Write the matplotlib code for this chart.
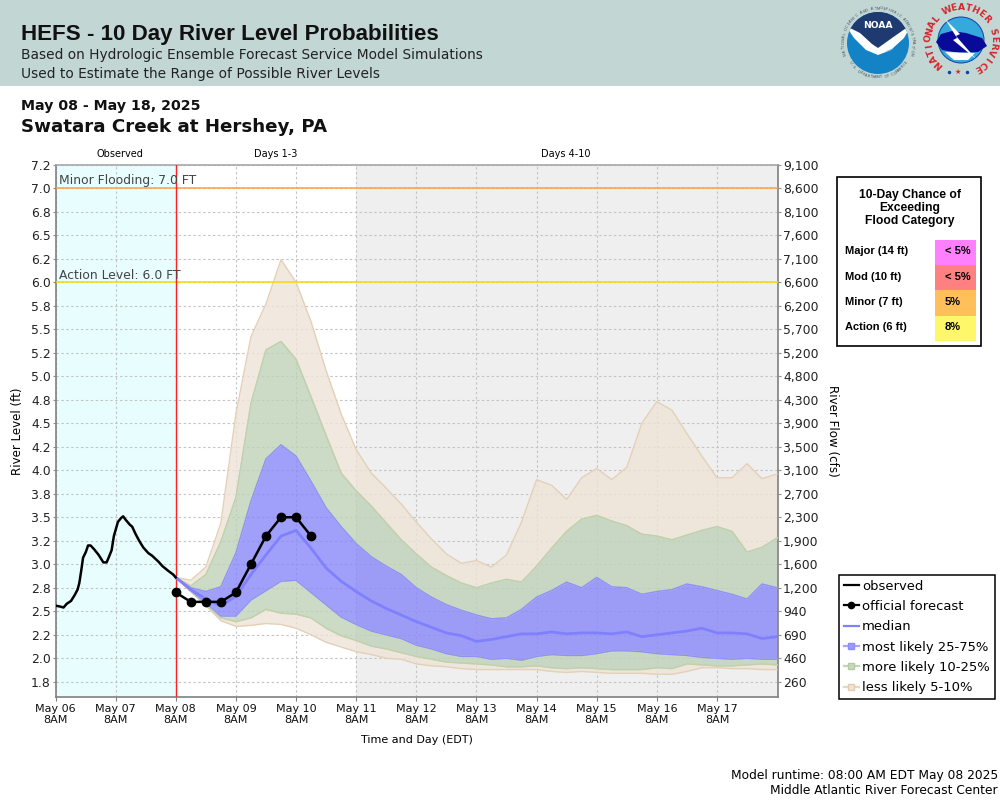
import matplotlib
matplotlib.use('Agg')
import matplotlib.pyplot as plt
import numpy as np
from matplotlib.lines import Line2D
from matplotlib.patches import Rectangle, Circle, Polygon

# observed stage, hours after May 06 8AM
obs_hours = [0, 1.9, 3.2, 4.5, 6.2, 7.6, 8.8, 9.5, 10.2, 11, 12.1, 13, 14, 15.4, 17.2, 19.1, 20.4, 21.2,
             22.4, 23.3, 24.9, 26.1, 27, 28.1, 29.7, 30.6, 32, 33.4, 35, 37, 38.6, 41, 42.7, 45, 47, 48]
obs_level = [2.56, 2.55, 2.54, 2.58, 2.61, 2.67, 2.73, 2.80, 2.92, 3.07, 3.13, 3.20, 3.20, 3.16, 3.10, 3.02, 3.02, 3.07,
             3.15, 3.30, 3.45, 3.49, 3.51, 3.47, 3.42, 3.40, 3.32, 3.25, 3.18, 3.12, 3.09, 3.03, 2.98, 2.93, 2.89, 2.86]

# official forecast, every 6 hours from May 08 8AM
official = [2.70, 2.60, 2.60, 2.60, 2.70, 3.00, 3.30, 3.50, 3.50, 3.30]

# ensemble percentiles, every 6 hours from May 08 8AM
tan_top = [2.86, 2.83, 2.97, 3.44, 4.60, 5.42, 5.77, 6.24, 6.00, 5.58, 5.06, 4.60, 4.22, 3.97, 3.81, 3.64,
           3.45, 3.27, 3.11, 3.01, 3.04, 2.97, 3.10, 3.45, 3.90, 3.84, 3.69, 3.92, 4.02, 3.90, 4.03, 4.50,
           4.73, 4.64, 4.39, 4.15, 3.92, 3.92, 4.07, 3.91, 3.96]
green_top = [2.86, 2.77, 2.89, 3.24, 3.71, 4.71, 5.28, 5.37, 5.18, 4.78, 4.37, 3.97, 3.78, 3.62, 3.44, 3.26,
             3.11, 2.97, 2.88, 2.80, 2.75, 2.80, 2.84, 2.81, 2.98, 3.17, 3.35, 3.48, 3.52, 3.46, 3.41, 3.32,
             3.30, 3.26, 3.31, 3.36, 3.40, 3.35, 3.13, 3.18, 3.28]
blue_top = [2.86, 2.75, 2.71, 2.76, 3.12, 3.67, 4.12, 4.27, 4.15, 3.88, 3.60, 3.40, 3.22, 3.08, 2.98, 2.89,
            2.75, 2.65, 2.57, 2.51, 2.46, 2.42, 2.43, 2.52, 2.65, 2.72, 2.81, 2.75, 2.86, 2.76, 2.75, 2.68,
            2.71, 2.73, 2.79, 2.76, 2.72, 2.68, 2.63, 2.79, 2.75]
median = [2.86, 2.73, 2.63, 2.56, 2.66, 2.89, 3.10, 3.30, 3.36, 3.17, 2.96, 2.82, 2.71, 2.61, 2.53, 2.46,
          2.39, 2.33, 2.27, 2.24, 2.18, 2.20, 2.23, 2.26, 2.26, 2.28, 2.26, 2.27, 2.27, 2.26, 2.28, 2.23,
          2.25, 2.27, 2.29, 2.32, 2.27, 2.27, 2.26, 2.21, 2.23]
blue_low = [2.86, 2.72, 2.59, 2.45, 2.45, 2.62, 2.72, 2.82, 2.83, 2.70, 2.57, 2.44, 2.36, 2.29, 2.25, 2.21,
            2.14, 2.10, 2.05, 2.02, 2.02, 1.99, 2.00, 1.98, 2.02, 2.04, 2.03, 2.03, 2.05, 2.08, 2.08, 2.07,
            2.05, 2.04, 2.03, 2.01, 2.00, 1.99, 2.00, 1.99, 1.99]
green_low = [2.86, 2.71, 2.57, 2.43, 2.39, 2.43, 2.52, 2.48, 2.47, 2.43, 2.32, 2.24, 2.19, 2.13, 2.10, 2.06,
             2.02, 1.99, 1.96, 1.95, 1.94, 1.93, 1.91, 1.91, 1.92, 1.90, 1.89, 1.90, 1.89, 1.88, 1.88, 1.88,
             1.90, 1.89, 1.94, 1.93, 1.92, 1.92, 1.93, 1.94, 1.93]
tan_low = [2.86, 2.71, 2.56, 2.40, 2.34, 2.35, 2.37, 2.36, 2.32, 2.25, 2.17, 2.12, 2.07, 2.04, 2.00, 1.99,
           1.94, 1.92, 1.91, 1.89, 1.88, 1.88, 1.88, 1.88, 1.88, 1.86, 1.85, 1.86, 1.85, 1.84, 1.84, 1.84,
           1.83, 1.83, 1.86, 1.90, 1.90, 1.89, 1.89, 1.88, 1.88]

level_ticks = [7.25, 7.0, 6.75, 6.5, 6.25, 6.0, 5.75, 5.5, 5.25, 5.0, 4.75, 4.5, 4.25, 4.0, 3.75, 3.5, 3.25, 3.0,
               2.75, 2.5, 2.25, 2.0, 1.75]
level_labels = ['7.2', '7.0', '6.8', '6.5', '6.2', '6.0', '5.8', '5.5', '5.2', '5.0', '4.8', '4.5', '4.2', '4.0',
                '3.8', '3.5', '3.2', '3.0', '2.8', '2.5', '2.2', '2.0', '1.8']
flow_labels = ['9,100', '8,600', '8,100', '7,600', '7,100', '6,600', '6,200', '5,700', '5,200', '4,800', '4,300',
               '3,900', '3,500', '3,100', '2,700', '2,300', '1,900', '1,600', '1,200', '940', '690', '460', '260']
day_labels = ['May 06\n8AM', 'May 07\n8AM', 'May 08\n8AM', 'May 09\n8AM', 'May 10\n8AM', 'May 11\n8AM',
              'May 12\n8AM', 'May 13\n8AM', 'May 14\n8AM', 'May 15\n8AM', 'May 16\n8AM', 'May 17\n8AM']

categories = ['Major (14 ft)', 'Mod (10 ft)', 'Minor (7 ft)', 'Action (6 ft)']
chances = ['< 5%', '< 5%', '5%', '8%']
chance_colors = ['#FF80FF', '#FF8080', '#FFC05A', '#FFF76A']

HEADER = '#C2D6D4'
BLUE, GREEN, TAN = '#8888FA', '#BFD2B8', '#EEE4D7'
BLUE_EDGE, GREEN_EDGE, TAN_EDGE = '#9090FB', '#BCD2AE', '#E4D0B8'

fig = plt.figure(figsize=(10, 8), dpi=100)

# overlay in pixel coordinates for header, table and notes
ov = fig.add_axes([0, 0, 1, 1])
ov.set_xlim(0, 1000)
ov.set_ylim(800, 0)
ov.axis('off')

ov.add_patch(Rectangle((0, 0), 1000, 86, fc=HEADER, ec='none'))
ov.text(21, 40, 'HEFS - 10 Day River Level Probabilities', fontsize=16.1, fontweight='bold',
        family='Liberation Sans', va='baseline', color='#111111')
ov.text(21, 59, 'Based on Hydrologic Ensemble Forecast Service Model Simulations', fontsize=9.92, color='#222222')
ov.text(21, 78, 'Used to Estimate the Range of Possible River Levels', fontsize=9.92, color='#222222')
ov.text(21, 110, 'May 08 - May 18, 2025', fontsize=10.2, fontweight='bold', color='#111111')
ov.text(21, 132, 'Swatara Creek at Hershey, PA', fontsize=13.15, fontweight='bold', color='#111111')


def ring_text(s, cx, cy, r, start, end, flip=False, **kw):
    # letters along a circle, angles in degrees clockwise from top
    for ch, a in zip(s, np.linspace(start, end, len(s))):
        rad = np.radians(a)
        rot = 180 - a if flip else -a
        ov.text(cx + r * np.sin(rad), cy - r * np.cos(rad), ch, rotation=rot, ha='center', va='center',
                rotation_mode='anchor', **kw)


# NOAA logo
disc = Circle((878, 43), 31, fc='#1483C6', ec='none')
ov.add_patch(disc)
navy = Polygon([[840, 22], [878, 52], [916, 22], [916, 0], [840, 0]], fc='#1F3A70', ec='none')
ov.add_patch(navy)
navy.set_clip_path(disc)
bird = Polygon([[846, 26], [860, 33], [872, 44], [878, 48], [892, 38], [912, 24], [904, 38], [892, 49],
                [884, 52], [894, 49], [878, 55], [866, 50], [854, 38]], fc='white', ec='none')
ov.add_patch(bird)
bird.set_clip_path(disc)
ov.text(878, 26, 'NOAA', color='white', fontsize=6.6, fontweight='bold', ha='center', va='center')
ring_text('NATIONAL OCEANIC AND ATMOSPHERIC ADMINISTRATION', 878, 43, 34.5, -108, 108, fontsize=2.6, color='#405060')
ring_text('U.S. DEPARTMENT OF COMMERCE', 878, 43, 34.5, 235, 125, flip=True, fontsize=2.6, color='#405060')

# NWS logo
ov.add_patch(Circle((961, 40), 23, fc='#35A8DC', ec='#1040A0', lw=0.7))
ov.add_patch(Polygon([[936, 42], [941, 34], [952, 31], [966, 33], [982, 38], [987, 46], [978, 52], [960, 53],
                      [942, 50]], fc='#0A0A9A', ec='none'))
ov.add_patch(Polygon([[945, 52], [975, 53], [968, 60], [954, 60]], fc='white', ec='none'))
ov.add_patch(Polygon([[945, 19], [960, 34], [956, 36], [976, 59], [953, 40], [957, 38]], fc='white', ec='none'))
ring_text('NATIONAL WEATHER SERVICE', 961, 40, 32.5, -137, 150, fontsize=6.6, fontweight='bold', color='#D8242C')
ov.text(958, 72, '\u2605', fontsize=5, color='#D8242C', ha='center', va='center')
ov.plot([949, 967], [72, 72], ls='none', marker='o', ms=1.5, color='#1040A0')

# flood category table
ov.add_patch(Rectangle((836.5, 176.5), 144, 169, fc='white', ec='black', lw=1.2))
ov.text(910, 195, '10-Day Chance of', fontsize=8.7, fontweight='bold', family='Liberation Sans', ha='center', va='center')
ov.text(910, 208, 'Exceeding', fontsize=8.7, fontweight='bold', family='Liberation Sans', ha='center', va='center')
ov.text(910, 221, 'Flood Category', fontsize=8.7, fontweight='bold', family='Liberation Sans', ha='center', va='center')
for i, (cat, pct, col) in enumerate(zip(categories, chances, chance_colors)):
    top = 240 + i * 25.2
    ov.add_patch(Rectangle((935, top), 41, 25.4, fc=col, ec='none'))
    ov.text(845, top + 11.5, cat, fontsize=8, fontweight='bold', family='Liberation Sans', va='center')
    ov.text(945, top + 11.5, pct, fontsize=8, fontweight='bold', family='Liberation Sans', va='center')

ov.text(120, 154, 'Observed', fontsize=7, ha='center', va='center')
ov.text(276, 154, 'Days 1-3', fontsize=7, ha='center', va='center')
ov.text(566, 154, 'Days 4-10', fontsize=7, ha='center', va='center')
ov.text(18, 431, 'River Level (ft)', fontsize=8.6, rotation=90, ha='center', va='center')
ov.text(832, 431, 'River Flow (cfs)', fontsize=8.6, rotation=270, ha='center', va='center')
ov.text(417, 740, 'Time and Day (EDT)', fontsize=8, ha='center', va='center')
ov.text(998, 776, 'Model runtime: 08:00 AM EDT May 08 2025', fontsize=8.8, ha='right', va='center')
ov.text(998, 791, 'Middle Atlantic River Forecast Center', fontsize=8.8, ha='right', va='center')

# main chart
ax = fig.add_axes([0.0555, (800 - 697.3) / 800, 0.7228, 532.6 / 800])
ax.set_xlim(0, 12.02)
ax.set_ylim(1.585, 7.25)
ax.set_facecolor('white')
ax.axvspan(0, 2, color='#E8FEFE', lw=0, zorder=0)
ax.axvspan(5, 12.02, color='#EFEFEF', lw=0, zorder=0)

ax.set_yticks(level_ticks)
ax.set_yticklabels(level_labels, fontsize=8.9, color='#222222')
ax.set_xticks(np.arange(12))
ax.set_xticklabels(day_labels, fontsize=8, color='#111111', linespacing=1.08)
ax.grid(True, color='#C4C4C4', ls=(0, (2.2, 2.2)), lw=0.8, zorder=1)
ax.tick_params(axis='y', length=2.5, color='#909090', pad=1)
ax.tick_params(axis='x', length=3, color='#808080', pad=2)
for side in ax.spines.values():
    side.set_color('#808080')
    side.set_linewidth(1.2)
ax.spines['top'].set_color('#A8A8A8')

forecast_x = 2 + np.arange(len(median)) / 4

for lo, hi, col, edge in [(tan_low, green_low, TAN, TAN_EDGE), (green_top, tan_top, TAN, TAN_EDGE),
                          (green_low, blue_low, GREEN, GREEN_EDGE), (blue_top, green_top, GREEN, GREEN_EDGE),
                          (blue_low, blue_top, BLUE, BLUE_EDGE)]:
    ax.fill_between(forecast_x, lo, hi, color=col, alpha=0.8, lw=0, zorder=2)
    ax.plot(forecast_x, lo, color=edge, lw=1, zorder=3)
    ax.plot(forecast_x, hi, color=edge, lw=1, zorder=3)

ax.axhline(7.0, color='#FFA040', lw=1.1, zorder=4)
ax.axhline(6.0, color='#FFD700', lw=1.1, zorder=4)
ax.text(0.055, 7.0 + 0.04, 'Minor Flooding: 7.0 FT', fontsize=8.9, color='#444444', va='baseline', zorder=5)
ax.text(0.055, 6.0 + 0.032, 'Action Level: 6.0 FT', fontsize=8.9, color='#444444', va='baseline', zorder=5)
ax.axvline(2, color='#FF2020', lw=1, zorder=4)

ax.plot(forecast_x, median, color='#8080FF', lw=2, zorder=5)
ax.plot(np.array(obs_hours) / 24, obs_level, color='black', lw=1.8, zorder=6)
ax.plot(forecast_x[:len(official)], official, color='black', lw=1.8, marker='o', ms=6, zorder=7)

# flow axis shares the level ticks
ax2 = ax.twinx()
ax2.set_ylim(ax.get_ylim())
ax2.set_yticks(level_ticks)
ax2.set_yticklabels(flow_labels, fontsize=8.9, color='#222222')
ax2.tick_params(axis='y', length=2.5, color='#909090', pad=1)
for side in ax2.spines.values():
    side.set_visible(False)

handles = [
    Line2D([], [], color='black', lw=1.6),
    Line2D([], [], color='black', lw=1.6, marker='o', ms=4.5),
    Line2D([], [], color='#8080FF', lw=1.6),
    Line2D([], [], color='#A6A6FA', lw=1.6, marker='s', ms=4.5, mfc='#9C9CFA', mec='#8C8CFB'),
    Line2D([], [], color='#C2D6B6', lw=1.6, marker='s', ms=4.5, mfc='#C6DAB8', mec='#B4CCA6'),
    Line2D([], [], color='#E6D6C4', lw=1.6, marker='s', ms=4.5, mfc='#EFE3D6', mec='#E2CDB4'),
]
names = ['observed', 'official forecast', 'median', 'most likely 25-75%', 'more likely 10-25%', 'less likely 5-10%']
leg = fig.legend(handles, names, loc='upper left', bbox_to_anchor=(0.8392, 1 - 575 / 800), fontsize=9.45,
                 frameon=True, fancybox=False, edgecolor='black', framealpha=1, borderpad=0.35, labelspacing=0.56,
                 handlelength=1.15, handletextpad=0.25, borderaxespad=0)
leg.get_frame().set_linewidth(1.1)

fig.savefig('out.png', dpi=100)
plt.close(fig)
